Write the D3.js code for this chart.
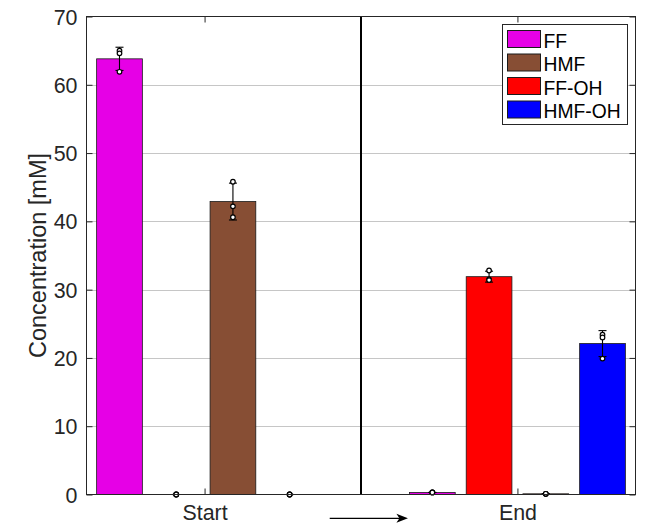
<!DOCTYPE html>
<html>
<head>
<meta charset="utf-8">
<script src="https://cdn.jsdelivr.net/npm/d3@7/dist/d3.min.js"></script>
<style>
  html, body { margin: 0; padding: 0; background: #fff; }
  svg { display: block; font-family: "Liberation Sans", Arial, Helvetica, sans-serif; }
</style>
</head>
<body>
<svg id="chart" width="651" height="526"></svg>
<script>
// Sampling points and compounds
const groups = ["Start", "End"];
const groupPos = [1, 2];
const series = ["FF", "FF-OH", "HMF", "HMF-OH"];
const legendOrder = ["FF", "HMF", "FF-OH", "HMF-OH"];
const seriesColors = ["#e600e6", "#ff0000", "#874e34", "#0000ff"];

// Mean concentration [mM] per compound, one value per sampling point
const ffMean    = [63.8, 0.3];
const ffohMean  = [0.0, 31.9];
const hmfMean   = [42.9, 0.1];
const hmfohMean = [0.0, 22.1];

// Standard deviations
const ffSd    = [1.7, 0.0];
const ffohSd  = [0.0, 0.8];
const hmfSd   = [2.7, 0.0];
const hmfohSd = [0.0, 1.9];

// Individual replicate measurements
const ffReps    = [[65.0, 64.6, 61.9], [0.3, 0.3, 0.3]];
const ffohReps  = [[0, 0, 0], [32.8, 31.5, 31.4]];
const hmfReps   = [[45.8, 42.2, 40.6], [0.1, 0.1, 0.1]];
const hmfohReps = [[0, 0, 0], [23.4, 23.0, 19.9]];

const yTicks = [0, 10, 20, 30, 40, 50, 60, 70];

(function draw() {
  const means = [ffMean, ffohMean, hmfMean, hmfohMean];
  const sds = [ffSd, ffohSd, hmfSd, hmfohSd];
  const reps = [ffReps, ffohReps, hmfReps, hmfohReps];

  const rows = [];
  series.forEach((s, si) => {
    groups.forEach((g, gi) => {
      rows.push({ series: s, group: g, pos: groupPos[gi], color: seriesColors[si],
                  mean: means[si][gi], sd: sds[si][gi], reps: reps[si][gi] });
    });
  });

  const svg = d3.select("#chart");
  const pLeft = 86, pRight = 636, pTop = 16.5, pBottom = 494.5;

  const x = d3.scaleLinear().domain([0.621, 2.379]).range([pLeft, pRight]);
  const y = d3.scaleLinear().domain([0, 70]).range([pBottom, pTop]);
  const xSub = d3.scaleBand().domain(series).range([-0.345, 0.345])
    .paddingInner(0.194).paddingOuter(0);
  const barW = x(xSub.bandwidth()) - x(0);
  const barX = d => x(d.pos + xSub(d.series));
  const barC = d => barX(d) + barW / 2;

  const axisColor = "#262626";

  // horizontal grid
  svg.append("g")
    .selectAll("line").data(yTicks.slice(1, -1)).join("line")
    .attr("x1", pLeft).attr("x2", pRight)
    .attr("y1", d => Math.round(y(d)) + 0.5).attr("y2", d => Math.round(y(d)) + 0.5)
    .attr("stroke", "#c6c6c6").attr("stroke-width", 1);

  // tick marks on all four sides, pointing inward
  const yl = svg.append("g").attr("transform", `translate(${pLeft + 0.5},0)`)
    .call(d3.axisLeft(y).tickValues(yTicks).tickSize(-6).tickPadding(9));
  const yr = svg.append("g").attr("transform", `translate(${pRight - 0.5},0)`)
    .call(d3.axisRight(y).tickValues(yTicks).tickSize(-6).tickFormat(""));
  const xb = svg.append("g").attr("transform", `translate(0,${pBottom})`)
    .call(d3.axisBottom(x).tickValues(groupPos).tickSize(-6).tickPadding(10)
      .tickFormat((d, i) => groups[i]));
  const xt = svg.append("g").attr("transform", `translate(0,${pTop})`)
    .call(d3.axisTop(x).tickValues(groupPos).tickSize(-6).tickFormat(""));

  [yl, yr, xb, xt].forEach(a => {
    a.select(".domain").remove();
    a.selectAll(".tick line").attr("stroke", axisColor).attr("stroke-width", 1);
    a.selectAll(".tick text").attr("fill", axisColor)
      .style("font-size", "21.4px").style("font-family", "Liberation Sans, Arial, sans-serif");
  });
  yl.selectAll(".tick text").attr("dy", "0.35em");
  xb.selectAll(".tick text").attr("dy", "0.71em");

  // bars
  svg.append("g")
    .selectAll("rect").data(rows).join("rect")
    .attr("x", barX).attr("width", barW)
    .attr("y", d => y(d.mean)).attr("height", d => y(0) - y(d.mean))
    .attr("fill", d => d.color)
    .attr("stroke", "#1a1a1a").attr("stroke-width", 0.8);

  // error bars (mean ± sd)
  const eb = svg.append("g").attr("stroke", "#000").attr("stroke-width", 1.1);
  rows.forEach(d => {
    const cx = barC(d);
    const lo = y(d.mean - d.sd), hi = y(d.mean + d.sd);
    eb.append("line").attr("x1", cx).attr("x2", cx).attr("y1", lo).attr("y2", hi);
    eb.append("line").attr("x1", cx - 4).attr("x2", cx + 4).attr("y1", lo).attr("y2", lo);
    eb.append("line").attr("x1", cx - 4).attr("x2", cx + 4).attr("y1", hi).attr("y2", hi);
  });

  // replicate points
  svg.append("g")
    .selectAll("circle")
    .data(rows.flatMap(d => d.reps.map(v => ({ cx: barC(d), v }))))
    .join("circle")
    .attr("cx", d => d.cx).attr("cy", d => y(d.v)).attr("r", 2.3)
    .attr("fill", "#fff").attr("stroke", "#000").attr("stroke-width", 1.2);

  // divider between the two sampling points
  svg.append("line")
    .attr("x1", x(1.5)).attr("x2", x(1.5)).attr("y1", pTop).attr("y2", pBottom)
    .attr("stroke", "#000").attr("stroke-width", 2);

  // axes box
  svg.append("rect")
    .attr("x", pLeft + 0.5).attr("y", pTop).attr("width", pRight - pLeft - 1).attr("height", pBottom - pTop)
    .attr("fill", "none").attr("stroke", axisColor).attr("stroke-width", 1);

  // y label
  svg.append("text")
    .attr("transform", `translate(46,${(pTop + pBottom) / 2}) rotate(-90)`)
    .attr("text-anchor", "middle").attr("fill", axisColor)
    .style("font-size", "23.5px")
    .text("Concentration [mM]");

  // arrow between the labels
  const ay = 518.3, ax0 = x(1.4), ax1 = x(1.65);
  svg.append("line").attr("x1", ax0).attr("x2", ax1 - 4).attr("y1", ay).attr("y2", ay)
    .attr("stroke", "#000").attr("stroke-width", 1.2);
  svg.append("path")
    .attr("d", `M${ax1},${ay} L${ax1 - 11.5},${ay - 4.5} L${ax1 - 8.5},${ay} L${ax1 - 11.5},${ay + 4.5} Z`)
    .attr("fill", "#000");

  // legend
  const lg = svg.append("g");
  lg.append("rect").attr("x", 502.5).attr("y", 24.5).attr("width", 125).attr("height", 100)
    .attr("fill", "#fff").attr("stroke", axisColor).attr("stroke-width", 1);
  legendOrder.forEach((name, i) => {
    const yy = 30.5 + i * 23.5;
    lg.append("rect").attr("x", 507.5).attr("y", yy).attr("width", 33).attr("height", 17)
      .attr("fill", seriesColors[series.indexOf(name)])
      .attr("stroke", "#1a1a1a").attr("stroke-width", 1);
    lg.append("text").attr("x", 543.5).attr("y", yy + 17.3)
      .attr("fill", "#000").style("font-size", "19.3px").text(name);
  });
})();
</script>
</body>
</html>
